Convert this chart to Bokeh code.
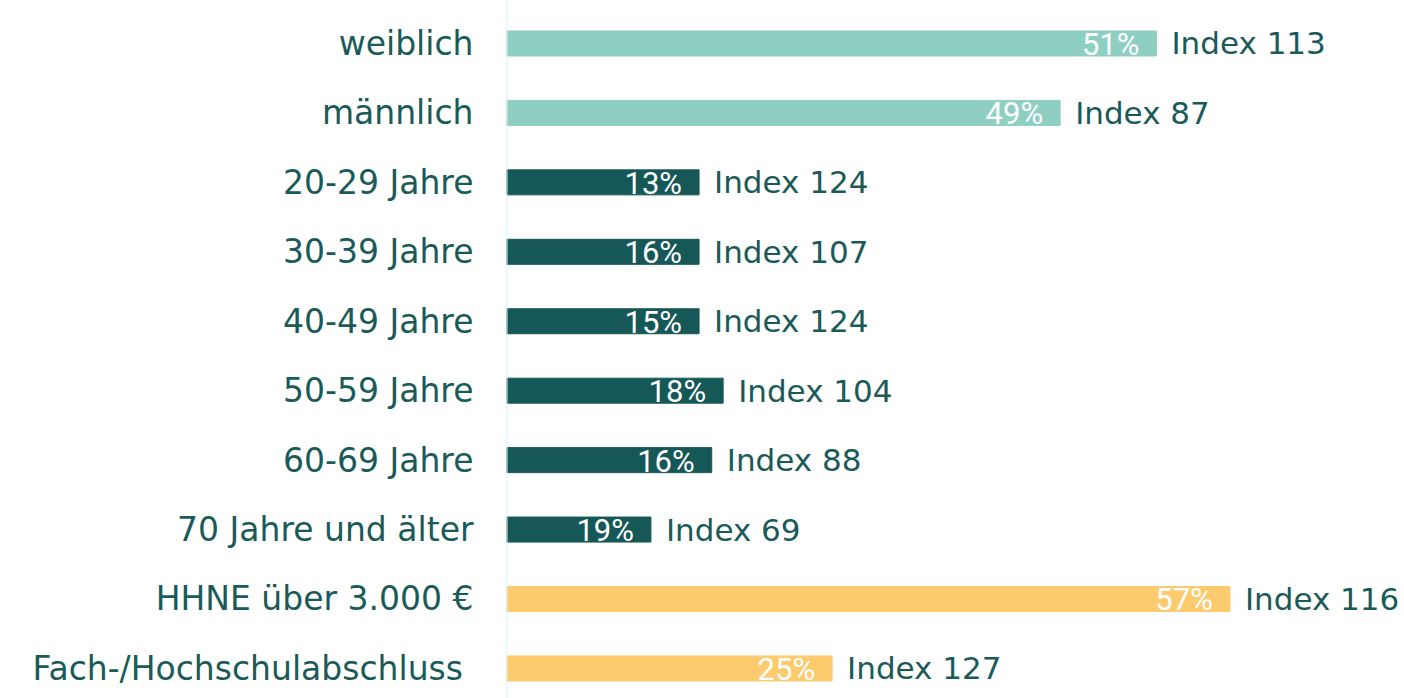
from bokeh.plotting import figure
from bokeh.models import ColumnDataSource, Range1d, FixedTicker, Span
from bokeh.core.properties import value
from bokeh.embed import file_html
from bokeh.resources import INLINE

categories = ["weiblich", "männlich", "20-29 Jahre", "30-39 Jahre", "40-49 Jahre",
              "50-59 Jahre", "60-69 Jahre", "70 Jahre und älter",
              "HHNE über 3.000 €", "Fach-/Hochschulabschluss "]
bar_values = [51.3, 43.7, 15.2, 15.2, 15.2, 17.1, 16.2, 11.4, 57.1, 25.7]
pct_labels = ["51%", "49%", "13%", "16%", "15%", "18%", "16%", "19%", "57%", "25%"]
index_labels = ["Index 113", "Index 87", "Index 124", "Index 107", "Index 124",
                "Index 104", "Index 88", "Index 69", "Index 116", "Index 127"]
groups = ["gender", "gender", "age", "age", "age", "age", "age", "age", "other", "other"]

group_colors = {"gender": "#8fcfc2", "age": "#165858", "other": "#fccb6e"}
TEXT = "#1a5a58"

ypos = list(range(len(categories)))
src = ColumnDataSource(dict(
    y=ypos, v=bar_values, pct=pct_labels, idx=index_labels,
    color=[group_colors[g] for g in groups],
))

p = figure(width=1404, height=698, output_backend="svg", toolbar_location=None,
           x_range=Range1d(0, 70.88), y_range=Range1d(9.433, -0.619),
           min_border_left=506, min_border_right=0, min_border_top=0, min_border_bottom=0)

p.add_layout(Span(location=0, dimension="height", line_color="#d6f3f5", line_width=2))

p.hbar(y="y", left=0, right="v", height=0.36, color="color", source=src)

p.text(x="v", y="y", text="pct", source=src, text_color="white",
       text_font=value("Roboto"), text_font_size="31px",
       text_align="right", text_baseline="middle", x_offset=-17, y_offset=1)

p.text(x="v", y="y", text="idx", source=src, text_color=TEXT,
       text_font=value("DejaVu Sans"), text_font_size="31px",
       text_align="left", text_baseline="middle", x_offset=15)

p.xaxis.visible = False
p.grid.visible = False
p.outline_line_color = None

ya = p.yaxis[0]
ya.ticker = FixedTicker(ticks=ypos)
ya.major_label_overrides = {i: c for i, c in enumerate(categories)}
ya.axis_line_color = None
ya.major_tick_line_color = None
ya.minor_tick_line_color = None
ya.major_tick_out = 0
ya.major_tick_in = 0
ya.major_label_standoff = 33
ya.major_label_text_font = "DejaVu Sans"
ya.major_label_text_font_size = "33px"
ya.major_label_text_color = TEXT

open("out.html", "w").write(file_html(p, INLINE))
